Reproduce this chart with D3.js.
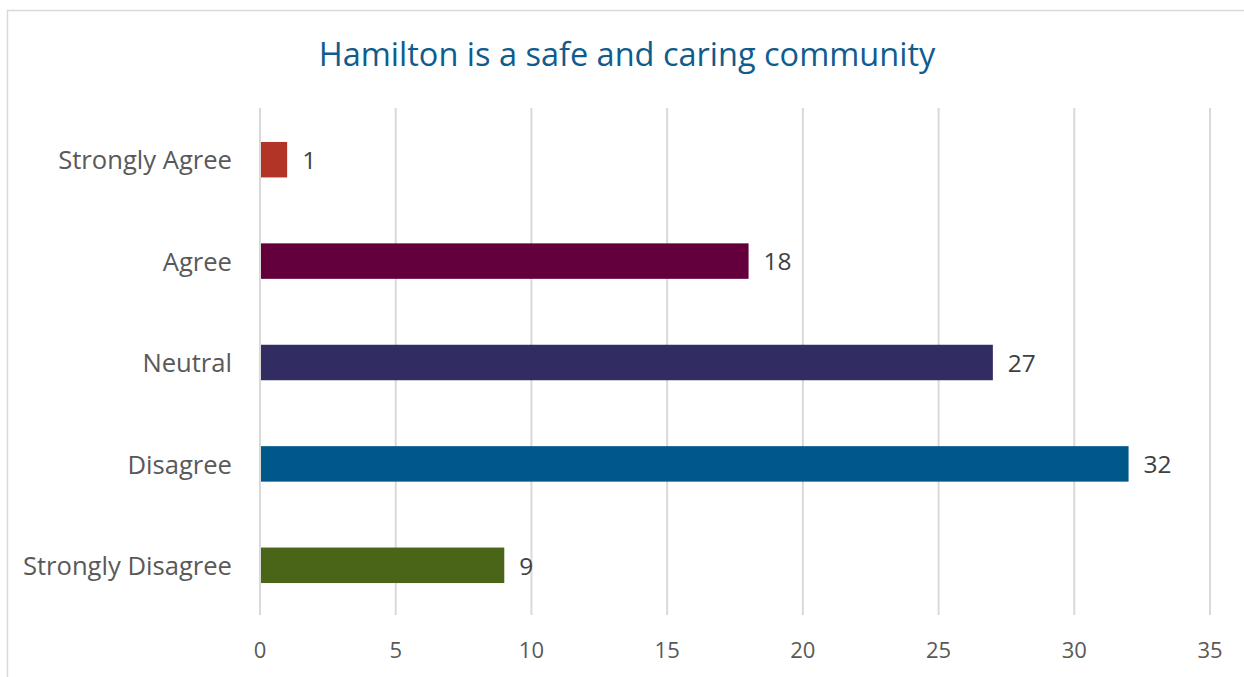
<!DOCTYPE html>
<html><head><meta charset="utf-8">
<script src="https://cdn.jsdelivr.net/npm/d3@7"></script>
<style>body{margin:0;background:#fff}svg{display:block}</style>
</head><body>
<svg id="c" width="1244" height="677"></svg>
<script>
const categories = ["Strongly Agree","Agree","Neutral","Disagree","Strongly Disagree"];
const values = [1,18,27,32,9];
const colors = ["#B23427","#63003C","#312C62","#00578A","#4A6518"];
const xTicks = [0,5,10,15,20,25,30,35];
const title = "Hamilton is a safe and caring community";

const svg = d3.select("#c");
const font = "'Open Sans', 'Noto Sans', sans-serif";
// frame
svg.append("path").attr("d","M7.5,677 L7.5,10.5 L1244,10.5").attr("fill","none").attr("stroke","#D9D9D9").attr("stroke-width",1.5);

const x = d3.scaleLinear().domain([0,35]).range([260,1210]);
const y = d3.scaleBand().domain(categories).range([109,616]).paddingInner(0.65).paddingOuter(0.325);

svg.append("g").selectAll("line").data(xTicks).join("line")
  .attr("x1",d=>x(d)).attr("x2",d=>x(d)).attr("y1",108).attr("y2",615)
  .attr("stroke","#D9D9D9").attr("stroke-width",2);

svg.append("g").selectAll("text").data(xTicks).join("text")
  .attr("x",d=>x(d)).attr("y",658).attr("text-anchor","middle")
  .attr("font-family",font).attr("font-size",22).attr("fill","#595959").text(d=>d);

svg.append("g").selectAll("text").data(categories).join("text")
  .attr("x",232).attr("y",d=>y(d)+y.bandwidth()/2).attr("dy","0.38em").attr("text-anchor","end")
  .attr("font-family",font).attr("font-size",25.6).attr("fill","#595959").text(d=>d);

svg.append("g").selectAll("rect").data(values).join("rect")
  .attr("x",x(0)+1).attr("y",(d,i)=>y(categories[i])).attr("height",y.bandwidth())
  .attr("width",d=>x(d)-x(0)-1).attr("fill",(d,i)=>colors[i]);

svg.append("g").selectAll("text").data(values).join("text")
  .attr("x",d=>x(d)+15).attr("y",(d,i)=>y(categories[i])+y.bandwidth()/2).attr("dy","0.38em")
  .attr("font-family",font).attr("font-size",24.5).attr("fill","#404040").text(d=>d);

svg.append("text").attr("x",627).attr("y",66).attr("text-anchor","middle")
  .attr("font-family",font).attr("font-size",32.5).attr("fill","#0F5C8E").text(title);
</script>
</body></html>
